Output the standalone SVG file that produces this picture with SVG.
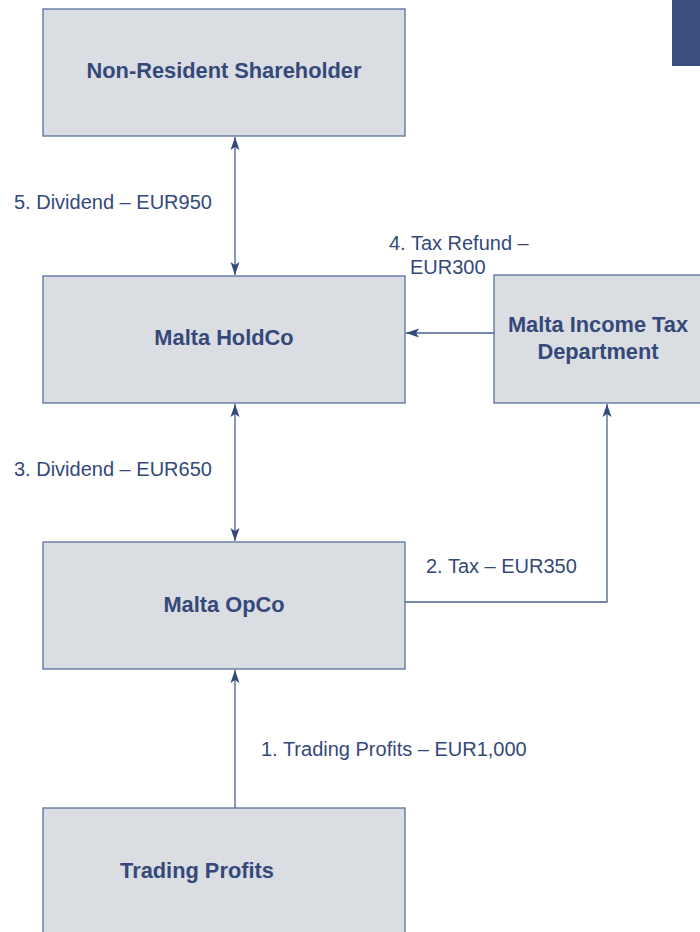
<svg xmlns="http://www.w3.org/2000/svg" width="700" height="932" viewBox="0 0 700 932">
<style>
.box{fill:#dadde2;stroke:#5a6fa0;stroke-width:1.3}
.t{font-family:"Liberation Sans",Arial,sans-serif;font-weight:bold;font-size:21.8px;fill:#34497a;text-anchor:middle}
.l{font-family:"Liberation Sans",Arial,sans-serif;font-size:20px;fill:#34497a}
.c{fill:none;stroke:#4a5f92;stroke-width:1.3}
</style>
<defs>
<marker id="ah" viewBox="0 0 13 10" refX="13" refY="5" markerWidth="13" markerHeight="10" markerUnits="userSpaceOnUse" orient="auto-start-reverse">
<path d="M0,0.5 L13,5 L0,9.5 L3,5 Z" fill="#34497a"/>
</marker>
</defs>
<rect x="672" y="0" width="28" height="66" fill="#3b5081"/>
<g id="connectors">
<line class="c" x1="235" y1="137" x2="235" y2="275" marker-start="url(#ah)" marker-end="url(#ah)"/>
<line class="c" x1="235" y1="404" x2="235" y2="541" marker-start="url(#ah)" marker-end="url(#ah)"/>
<line class="c" x1="235" y1="808" x2="235" y2="670" marker-end="url(#ah)"/>
<line class="c" x1="494" y1="333" x2="406" y2="333" marker-end="url(#ah)"/>
<polyline class="c" points="405,602 607,602 607,404" marker-end="url(#ah)"/>
<text class="l" x="14" y="209">5. Dividend – EUR950</text>
<text class="l" x="389" y="250">4. Tax Refund –</text>
<text class="l" x="410" y="274">EUR300</text>
<text class="l" x="14" y="476">3. Dividend – EUR650</text>
<text class="l" x="426" y="573">2. Tax – EUR350</text>
<text class="l" x="261" y="756">1. Trading Profits – EUR1,000</text>
</g>
<g id="shareholder">
<rect class="box" x="43" y="9" width="362" height="127"/>
<text class="t" x="224" y="78">Non-Resident Shareholder</text>
</g>
<g id="holdco">
<rect class="box" x="43" y="276" width="362" height="127"/>
<text class="t" x="224" y="345">Malta HoldCo</text>
</g>
<g id="taxdept">
<rect class="box" x="494" y="275" width="210" height="128"/>
<text class="t" x="598" y="332">Malta Income Tax</text>
<text class="t" x="598" y="359">Department</text>
</g>
<g id="opco">
<rect class="box" x="43" y="542" width="362" height="127"/>
<text class="t" x="224" y="612">Malta OpCo</text>
</g>
<g id="trading">
<rect class="box" x="43" y="808" width="362" height="130"/>
<text class="t" x="197" y="878">Trading Profits</text>
</g>
</svg>
